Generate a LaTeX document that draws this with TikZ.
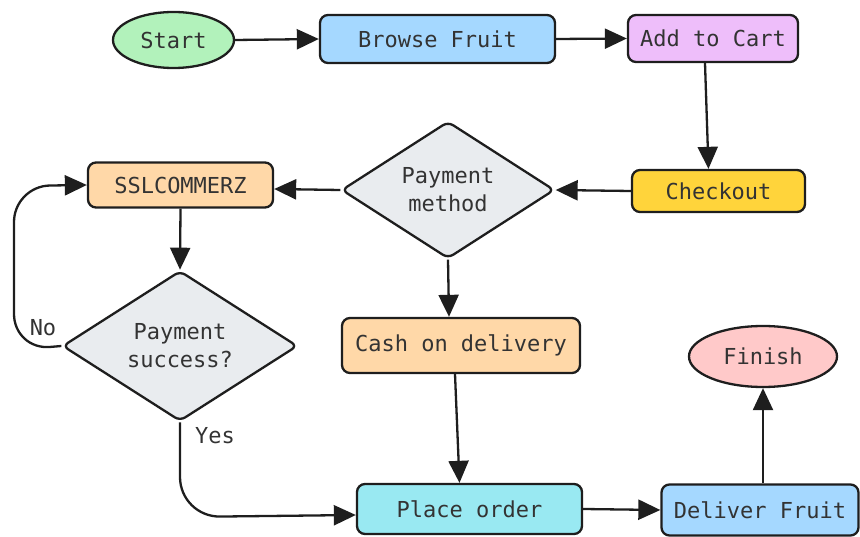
\documentclass[tikz,border=0pt]{standalone}
\usepackage{fontspec}
\setmonofont{DejaVu Sans Mono}
\usetikzlibrary{shapes.geometric,arrows.meta}

\definecolor{ink}{HTML}{1E1E1E}
\definecolor{txt}{HTML}{333333}
\definecolor{cgreen}{HTML}{B2F2BB}
\definecolor{cblue}{HTML}{A5D8FF}
\definecolor{cviolet}{HTML}{EEBEFA}
\definecolor{cyellow}{HTML}{FFD43B}
\definecolor{cgrey}{HTML}{E9ECEF}
\definecolor{corange}{HTML}{FFD8A8}
\definecolor{ccyan}{HTML}{99E9F2}
\definecolor{cred}{HTML}{FFC9C9}

\tikzset{
  base/.style={draw=ink, line width=2.3pt, inner sep=0pt, align=center,
    text=txt, font=\ttfamily\fontsize{22}{28}\selectfont},
  box/.style={base, rectangle, rounded corners=8pt},
  oval/.style={base, ellipse},
  choice/.style={base, diamond, rounded corners=6pt},
  arrow/.style={draw=ink, line width=2.3pt,
    -{Triangle[length=22pt,width=20pt]}},
  lbl/.style={text=txt, font=\ttfamily\fontsize{22}{28}\selectfont, inner sep=0pt}
}

\begin{document}
\begin{tikzpicture}[x=1pt,y=-1pt]
  \useasboundingbox (0,0) rectangle (860,537);

  % nodes
  \node[oval, fill=cgreen, minimum width=121pt, minimum height=56pt] (start) at (173.5,40) {Start};
  \node[box, fill=cblue, minimum width=235pt, minimum height=48pt] (browse) at (437.5,39) {Browse Fruit};
  \node[box, fill=cviolet, minimum width=170pt, minimum height=47pt] (cart) at (713,38.5) {Add to Cart};
  \node[box, fill=cyellow, minimum width=173pt, minimum height=42pt] (checkout) at (718.5,191) {Checkout};
  \node[choice, fill=cgrey, minimum width=213pt, minimum height=134pt] (pm) at (448,190) {Payment\\method};
  \node[box, fill=corange, minimum width=185pt, minimum height=45pt] (ssl) at (180.5,185) {SSLCOMMERZ};
  \node[choice, fill=cgrey, minimum width=235pt, minimum height=135pt] (ps) at (180,346) {Payment\\success?};
  \node[box, fill=corange, minimum width=238pt, minimum height=55pt] (cod) at (461,345.5) {Cash on delivery};
  \node[oval, fill=cred, minimum width=148pt, minimum height=61pt] (finish) at (763,356.5) {Finish};
  \node[box, fill=ccyan, minimum width=225pt, minimum height=50pt] (place) at (469.5,509) {Place order};
  \node[box, fill=cblue, minimum width=197pt, minimum height=51pt] (deliver) at (760,510) {Deliver Fruit};

  % loop-back and yes-branch bends
  \coordinate (nobot) at (14,350);
  \coordinate (notop) at (14,186);
  \coordinate (yesbend) at (180,517);

  % connectors
  \draw[arrow] (start.east) -- (browse.west);
  \draw[arrow] (browse.east) -- (cart.west);
  \draw[arrow] ([xshift=-8pt]cart.south) -- ([xshift=-10pt]checkout.north);
  \draw[arrow] (checkout.west) -- (pm.east);
  \draw[arrow] (pm.west) -- ([yshift=-4pt]ssl.east);
  \draw[arrow] (ssl.south) -- (ps.north);
  \draw[arrow] (pm.south) -- ([xshift=-12pt]cod.north);
  \draw[arrow, rounded corners=36pt] (ps.west) -- (nobot) -- (notop) -- (ssl.west);
  \draw[arrow, rounded corners=40pt] (ps.south) -- (yesbend) -- ([yshift=-6pt]place.west);
  \draw[arrow] ([xshift=-6pt]cod.south) -- ([xshift=-10pt]place.north);
  \draw[arrow] (place.east) -- (deliver.west);
  \draw[arrow] ([xshift=3pt]deliver.north) -- (finish.south);

  % branch labels
  \node[lbl] (nolbl) at (43,328) {No};
  \node[lbl] (yeslbl) at (215,436) {Yes};
\end{tikzpicture}
\end{document}
